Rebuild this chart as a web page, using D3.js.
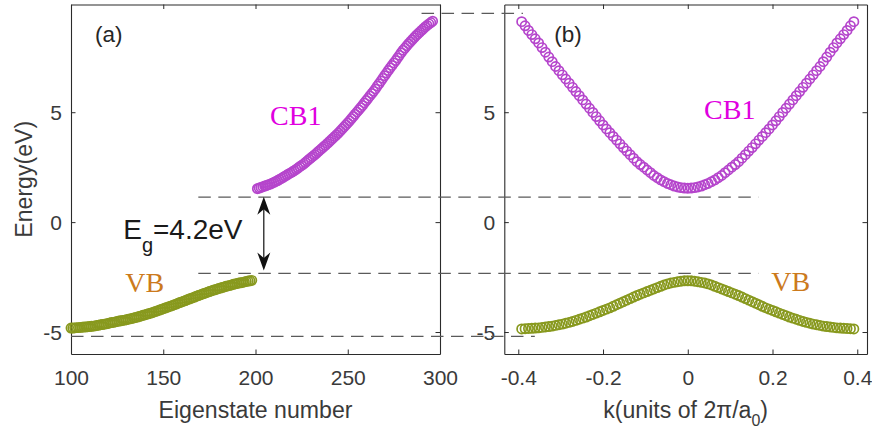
<!DOCTYPE html>
<html>
<head>
<meta charset="utf-8">
<script src="https://cdn.jsdelivr.net/npm/d3@7"></script>
<style>
body { margin: 0; background: #fff; }
text { font-family: "Liberation Sans", Arial, Helvetica, sans-serif; }
</style>
</head>
<body>
<script>
// ---- data ----
// (a) energy vs eigenstate number
let vbStates = d3.range(100, 199)
let vbEnergy = [
    -4.82,-4.82,-4.81,-4.80,-4.80,-4.79,-4.78,-4.77,-4.77,-4.76,
    -4.75,-4.74,-4.73,-4.72,-4.70,-4.69,-4.67,-4.66,-4.64,-4.63,
    -4.61,-4.59,-4.57,-4.56,-4.54,-4.52,-4.50,-4.49,-4.47,-4.46,
    -4.44,-4.42,-4.40,-4.38,-4.36,-4.34,-4.32,-4.29,-4.27,-4.24,
    -4.22,-4.19,-4.17,-4.14,-4.12,-4.09,-4.06,-4.03,-4.00,-3.97,
    -3.94,-3.91,-3.88,-3.85,-3.82,-3.79,-3.76,-3.73,-3.69,-3.66,
    -3.63,-3.60,-3.57,-3.53,-3.50,-3.47,-3.44,-3.41,-3.37,-3.34,
    -3.31,-3.28,-3.25,-3.22,-3.19,-3.16,-3.13,-3.10,-3.08,-3.05,
    -3.02,-3.00,-2.97,-2.95,-2.92,-2.90,-2.88,-2.86,-2.83,-2.81,
    -2.79,-2.77,-2.76,-2.74,-2.72,-2.70,-2.68,-2.67,-2.65]
let cbStates = d3.range(201, 297)
let cbEnergy = [
    1.52,1.55,1.58,1.61,1.64,1.67,1.70,1.73,1.77,1.81,
    1.85,1.89,1.94,1.99,2.04,2.09,2.14,2.19,2.24,2.29,
    2.34,2.40,2.46,2.52,2.58,2.64,2.71,2.78,2.85,2.92,
    2.99,3.06,3.13,3.21,3.28,3.35,3.43,3.50,3.58,3.66,
    3.74,3.82,3.90,3.98,4.06,4.15,4.24,4.33,4.42,4.51,
    4.61,4.71,4.81,4.91,5.01,5.11,5.21,5.31,5.42,5.53,
    5.63,5.74,5.85,5.95,6.06,6.19,6.30,6.42,6.54,6.66,
    6.78,6.90,7.02,7.13,7.24,7.35,7.47,7.59,7.71,7.82,
    7.92,8.02,8.12,8.21,8.30,8.39,8.48,8.56,8.64,8.72,
    8.80,8.88,8.95,9.02,9.08,9.14]

// (b) energy vs k (units of 2pi/a0)
let kPoints = d3.range(-49, 50).map(i => i * 0.008)
let cbK = [
    9.12,8.93,8.72,8.53,8.34,8.15,7.94,7.73,7.51,7.30,
    7.08,6.89,6.70,6.51,6.32,6.13,5.94,5.75,5.56,5.37,
    5.18,4.99,4.80,4.61,4.42,4.24,4.07,3.90,3.73,3.56,
    3.39,3.23,3.07,2.91,2.75,2.62,2.50,2.37,2.25,2.12,
    2.02,1.92,1.84,1.76,1.70,1.64,1.60,1.57,1.55,
    1.54,
    1.55,1.57,1.60,1.64,1.70,1.76,1.84,1.92,2.02,2.12,
    2.25,2.37,2.50,2.62,2.75,2.91,3.07,3.23,3.39,3.56,
    3.73,3.90,4.07,4.24,4.42,4.61,4.80,4.99,5.18,5.37,
    5.56,5.75,5.94,6.13,6.32,6.51,6.70,6.89,7.08,7.30,
    7.51,7.73,7.94,8.15,8.34,8.53,8.72,8.93,9.12]
let vbK = [
    -4.86,-4.85,-4.84,-4.83,-4.82,-4.81,-4.79,-4.77,-4.75,-4.73,
    -4.70,-4.67,-4.64,-4.60,-4.56,-4.52,-4.47,-4.42,-4.37,-4.32,
    -4.26,-4.20,-4.14,-4.08,-4.02,-3.96,-3.90,-3.83,-3.76,-3.69,
    -3.62,-3.55,-3.48,-3.41,-3.34,-3.28,-3.22,-3.16,-3.10,-3.04,
    -2.98,-2.92,-2.86,-2.81,-2.77,-2.74,-2.71,-2.69,-2.67,
    -2.67,
    -2.67,-2.69,-2.71,-2.74,-2.77,-2.81,-2.86,-2.92,-2.98,-3.04,
    -3.10,-3.16,-3.22,-3.28,-3.34,-3.41,-3.48,-3.55,-3.62,-3.69,
    -3.76,-3.83,-3.90,-3.96,-4.02,-4.08,-4.14,-4.20,-4.26,-4.32,
    -4.37,-4.42,-4.47,-4.52,-4.56,-4.60,-4.64,-4.67,-4.70,-4.73,
    -4.75,-4.77,-4.79,-4.81,-4.82,-4.83,-4.84,-4.85,-4.86]

let xTicksA = [100, 150, 200, 250, 300]
let xTicksB = [-0.4, -0.2, 0, 0.2, 0.4]
let yTicks = [-5, 0, 5]

// dashed reference levels: energy, start (eigenstate #), end (k)
let levelEnergy = [9.5, 1.14, -2.33, -5.2]
let levelFrom = [290, 169, 169, 100]
let levelTo = [-0.389, 0.167, 0.167, -0.361]

// ---- setup canvas ----
let width = 872
let height = 430
let axisColor = "#2b2b2b"
let cbColor = "#b545cc"
let vbColor = "#88991e"

let svg = d3.select("body").append("svg")
    .attr("width", width)
    .attr("height", height)

let y = d3.scaleLinear().domain([-6, 9.9]).range([354, 4.5])
let xA = d3.scaleLinear().domain([100, 300]).range([71, 440])
let xB = d3.scaleLinear().domain([-0.433, 0.423]).range([504.3, 867])

// matlab style labels: plain hyphen for minus
let fmtInt = d => String(d)
let fmtK = d => d === 0 ? "0" : (d < 0 ? "-" : "") + Math.abs(d).toFixed(1)

function drawAxes(x, xTicks, fmt) {
    let g = svg.append("g")
    let [x0, x1] = x.range()
    let [y0, y1] = y.range()

    g.append("g")
        .attr("transform", `translate(0,${y0})`)
        .call(d3.axisBottom(x).tickValues(xTicks).tickFormat(fmt)
            .tickSizeInner(-4.5).tickSizeOuter(0).tickPadding(16))
    g.append("g")
        .attr("transform", `translate(0,${y1})`)
        .call(d3.axisTop(x).tickValues(xTicks).tickFormat("")
            .tickSizeInner(-4.5).tickSizeOuter(0))
    let left = g.append("g")
        .attr("transform", `translate(${x0},0)`)
        .call(d3.axisLeft(y).tickValues(yTicks).tickFormat(fmtInt)
            .tickSizeInner(-4.5).tickSizeOuter(0).tickPadding(9))
    g.append("g")
        .attr("transform", `translate(${x1},0)`)
        .call(d3.axisRight(y).tickValues(yTicks).tickFormat("")
            .tickSizeInner(-4.5).tickSizeOuter(0))

    g.selectAll(".domain").attr("stroke", axisColor).attr("stroke-width", 1.1)
    g.selectAll(".tick line").attr("stroke", axisColor).attr("stroke-width", 1)
    g.selectAll(".tick text")
        .attr("fill", "#3a3a3a")
        .style("font-size", "21px")
        .style("font-family", "'Liberation Sans', Arial, sans-serif")
    left.selectAll(".tick text").attr("dy", "0.35em")
}

drawAxes(xA, xTicksA, fmtInt)
drawAxes(xB, xTicksB, fmtK)

// ---- markers ----
function drawPoints(xs, es, x, color) {
    svg.append("g")
        .selectAll("circle")
        .data(xs.map((v, i) => [v, es[i]]))
        .enter()
        .append("circle")
            .attr("cx", d => x(d[0]))
            .attr("cy", d => y(d[1]))
            .attr("r", 4.6)
            .attr("fill", "none")
            .attr("stroke", color)
            .attr("stroke-width", 1.7)
}

drawPoints(vbStates, vbEnergy, xA, vbColor)
drawPoints(cbStates, cbEnergy, xA, cbColor)
drawPoints(kPoints, vbK, xB, vbColor)
drawPoints(kPoints, cbK, xB, cbColor)

// ---- dashed levels spanning both panels ----
svg.append("g")
    .selectAll("line")
    .data(levelEnergy.map((e, i) => ({ e: e, from: levelFrom[i], to: levelTo[i] })))
    .enter()
    .append("line")
        .attr("x1", d => xA(d.from))
        .attr("x2", d => xB(d.to))
        .attr("y1", d => y(d.e))
        .attr("y2", d => y(d.e))
        .attr("stroke", "#5a5a5a")
        .attr("stroke-width", 1.2)
        .attr("stroke-dasharray", "12.5,7.5")

// ---- gap arrow ----
let ax = xA(204.5)
let ayTop = y(1.15)
let ayBot = y(-2.2)
function head(px, py, dir) {
    return `M${px},${py} L${px + 6.5},${py + dir * 18} L${px},${py + dir * 12.5} L${px - 6.5},${py + dir * 18} Z`
}
svg.append("line")
    .attr("x1", ax).attr("x2", ax)
    .attr("y1", ayTop + 10).attr("y2", ayBot - 10)
    .attr("stroke", "#111").attr("stroke-width", 1.2)
svg.append("path").attr("d", head(ax, ayTop, 1)).attr("fill", "#111")
svg.append("path").attr("d", head(ax, ayBot, -1)).attr("fill", "#111")

// ---- annotations ----
let eg = svg.append("text")
    .attr("x", xA(128.3))
    .attr("y", y(-0.78))
    .attr("fill", "#1a1a1a")
    .style("font-size", "28px")
eg.append("tspan").text("E")
eg.append("tspan").attr("dy", 13).style("font-size", "20px").text("g")
eg.append("tspan").attr("dy", -13).text("=4.2eV")

svg.append("text").attr("x", xA(113)).attr("y", y(8.19))
    .attr("fill", "#262626").style("font-size", "22.5px").text("(a)")
svg.append("text").attr("x", xB(-0.315)).attr("y", y(8.19))
    .attr("fill", "#262626").style("font-size", "22.5px").text("(b)")

let serif = "'Liberation Serif', 'Times New Roman', serif"
svg.append("text").attr("x", xA(207.9)).attr("y", y(4.42))
    .attr("fill", "#e000e0").style("font-family", serif).style("font-size", "28px").text("CB1")
svg.append("text").attr("x", xB(0.0385)).attr("y", y(4.69))
    .attr("fill", "#e000e0").style("font-family", serif).style("font-size", "28px").text("CB1")
svg.append("text").attr("x", xA(129.4)).attr("y", y(-3.17))
    .attr("fill", "#cc7a1c").style("font-family", serif).style("font-size", "28px").text("VB")
svg.append("text").attr("x", xB(0.197)).attr("y", y(-3.13))
    .attr("fill", "#cc7a1c").style("font-family", serif).style("font-size", "28px").text("VB")

// ---- axis labels ----
svg.append("text")
    .attr("x", d3.mean(xA.range()))
    .attr("y", 417.5)
    .attr("text-anchor", "middle")
    .attr("fill", "#3a3a3a")
    .style("font-size", "23.1px")
    .text("Eigenstate number")

let kl = svg.append("text")
    .attr("x", d3.mean(xB.range()))
    .attr("y", 417.5)
    .attr("text-anchor", "middle")
    .attr("fill", "#3a3a3a")
    .style("font-size", "23.1px")
kl.append("tspan").text("k(units of 2π/a")
kl.append("tspan").attr("dy", 8).style("font-size", "16px").text("0")
kl.append("tspan").attr("dy", -8).text(")")

svg.append("text")
    .attr("transform", `translate(32.3,${d3.mean(y.range())}) rotate(-90)`)
    .attr("text-anchor", "middle")
    .attr("fill", "#3a3a3a")
    .style("font-size", "23.1px")
    .text("Energy(eV)")
</script>
</body>
</html>
